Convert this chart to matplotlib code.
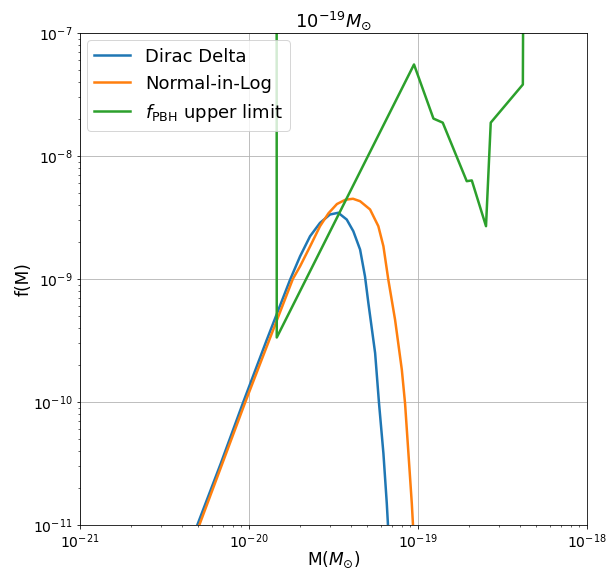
import matplotlib
matplotlib.use("Agg")
import matplotlib.pyplot as plt
import numpy as np

# values (log10 of mass, log10 of f)
dirac_logm = [-20.334, -20.306, -20.167, -20.034, -19.895, -19.757, -19.698,
              -19.639, -19.580, -19.521, -19.472, -19.422, -19.383, -19.343,
              -19.314, -19.294, -19.254, -19.231, -19.205, -19.185, -19.176]
dirac_logf = [-11.1, -11.0, -10.499, -10.0, -9.494, -9.005, -8.815,
              -8.652, -8.543, -8.475, -8.461, -8.516, -8.611, -8.760,
              -8.978, -9.195, -9.602, -10.010, -10.417, -10.825, -11.05]

lognorm_logm = [-20.322, -20.294, -20.022, -19.741, -19.698, -19.639, -19.580,
                -19.530, -19.480, -19.430, -19.385, -19.343, -19.284, -19.235,
                -19.205, -19.176, -19.136, -19.096, -19.077, -19.057, -19.037,
                -19.028]
lognorm_logf = [-11.1, -11.0, -10.0, -9.0, -8.896, -8.735, -8.570,
                -8.465, -8.390, -8.355, -8.347, -8.367, -8.434, -8.570,
                -8.733, -9.005, -9.331, -9.738, -10.010, -10.417, -10.825,
                -11.05]

limit_logm = [-19.837, -19.836, -19.024, -18.909, -18.854, -18.712, -18.682,
              -18.598, -18.570, -18.380, -18.373]
limit_logf = [-5.0, -9.475, -7.255, -7.695, -7.728, -8.204, -8.198,
              -8.570, -7.728, -7.418, -5.0]

fig = plt.figure(figsize=(608 / 72, 568 / 72), dpi=72)
ax = fig.add_axes([0.1316, 0.0757, 0.834, 0.866])

ax.plot(10**np.array(dirac_logm), 10**np.array(dirac_logf), lw=2.5, label="Dirac Delta")
ax.plot(10**np.array(lognorm_logm), 10**np.array(lognorm_logf), lw=2.5, label="Normal-in-Log")
ax.plot(10**np.array(limit_logm), 10**np.array(limit_logf), lw=2.5,
        label=r"$f_{\rm PBH}$ upper limit")

ax.set_xscale("log")
ax.set_yscale("log")
ax.set_xlim(1e-21, 1e-18)
ax.set_ylim(1e-11, 1e-7)
ax.grid(True, which="major")
ax.tick_params(labelsize=14)

ax.set_xlabel(r"M($M_{\odot}$)", fontsize=17, labelpad=-1)
ax.set_ylabel("f(M)", fontsize=17, labelpad=0)
ax.set_title(r"$10^{-19} M_{\odot}$", fontsize=18)
ax.legend(loc="upper left", fontsize=18, borderaxespad=0.4)

fig.savefig("out.png", dpi=72)
